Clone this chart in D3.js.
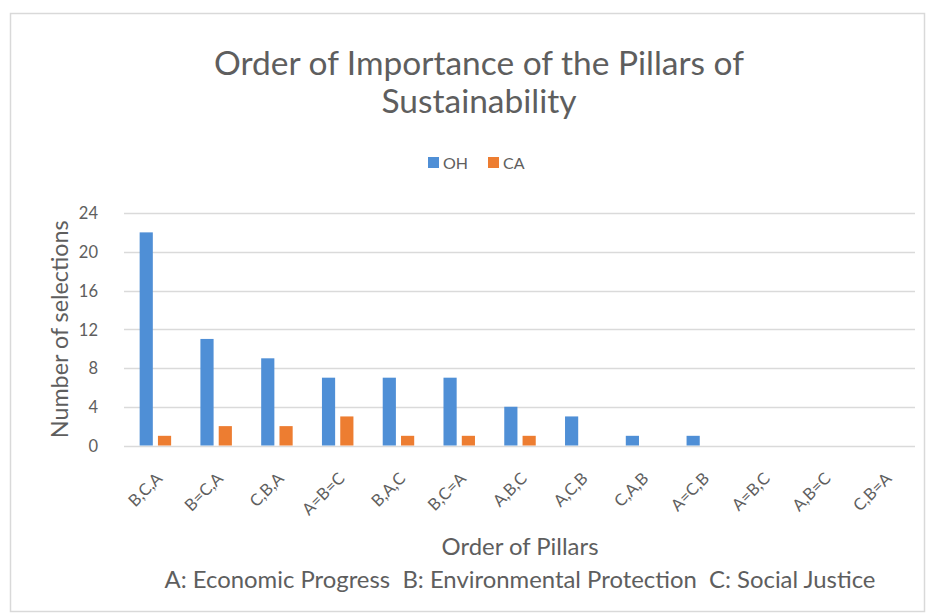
<html>

<head>
    <style>
        body {
            margin: 0;
            background: #ffffff;
        }

        text {
            font-family: Lato, "Open Sans", sans-serif;
            fill: #5e5e5e;
        }
    </style>
</head>

<body>
    <script src="https://d3js.org/d3.v7.min.js"></script>
    <script>
        var width = 927, height = 615;

        // data
        var categories = ["B,C,A", "B=C,A", "C,B,A", "A=B=C", "B,A,C", "B,C=A", "A,B,C", "A,C,B", "C,A,B", "A=C,B", "A=B,C", "A,B=C", "C,B=A"];
        var seriesNames = ["OH", "CA"];
        var ohValues = [22, 11, 9, 7, 7, 7, 4, 3, 1, 1, 0, 0, 0];
        var caValues = [1, 2, 2, 3, 1, 1, 1, 0, 0, 0, 0, 0, 0];
        var yTicks = [0, 4, 8, 12, 16, 20, 24];

        var rows = categories.map(function (c, i) {
            return { cat: c, OH: ohValues[i], CA: caValues[i] };
        });

        var color = d3.scaleOrdinal().domain(seriesNames).range(["#4f8fd6", "#ed7d31"]);

        var margin = { top: 213, right: 12, bottom: 170, left: 125 };

        var svg = d3.select("body")
            .append("svg")
            .attr("width", width)
            .attr("height", height);

        // chart border
        svg.append("rect")
            .attr("x", 10.5)
            .attr("y", 13.5)
            .attr("width", 914)
            .attr("height", 598)
            .attr("fill", "none")
            .attr("stroke", "#d9d9d9")
            .attr("stroke-width", 1.5);

        var x = d3.scaleBand()
            .domain(categories)
            .range([margin.left, width - margin.right]);

        var x1 = d3.scaleBand()
            .domain(seriesNames)
            .range([0, x.bandwidth()])
            .paddingInner(0.28)
            .paddingOuter(0.8);

        var y = d3.scaleLinear()
            .domain([0, 24])
            .range([height - margin.bottom + 0.5, margin.top]);

        // make a text fit a measured width by scaling its font size
        function fitWidth(sel, target) {
            var node = sel.node();
            var fs = parseFloat(sel.attr("font-size"));
            var w = node.getComputedTextLength();
            sel.attr("font-size", (fs * target / w).toFixed(2));
        }

        // gridlines
        svg.append("g")
            .attr("class", "grid")
            .selectAll("line")
            .data(yTicks)
            .enter().append("line")
            .attr("x1", margin.left - 1)
            .attr("x2", width - margin.right)
            .attr("y1", function (d) { return Math.round(y(d)) + 0.5; })
            .attr("y2", function (d) { return Math.round(y(d)) + 0.5; })
            .attr("stroke", "#dadada")
            .attr("stroke-width", 1.3);

        // y axis labels
        var yAxis = svg.append("g")
            .attr("transform", "translate(" + (margin.left - 27) + ",0)")
            .call(d3.axisLeft(y).tickValues(yTicks).tickSize(0).tickPadding(0));
        yAxis.select(".domain").remove();
        yAxis.selectAll("text")
            .attr("font-family", "Lato, sans-serif")
            .attr("font-size", 16.5)
            .attr("fill", "#5e5e5e")
            .attr("dy", "0.36em");

        // bars
        var groups = svg.append("g")
            .selectAll("g")
            .data(rows)
            .enter().append("g")
            .attr("transform", function (d) { return "translate(" + x(d.cat) + ",0)"; });

        groups.selectAll("rect")
            .data(function (d) { return seriesNames.map(function (k) { return { key: k, value: d[k] }; }); })
            .enter().append("rect")
            .attr("x", function (d) { return x1(d.key); })
            .attr("width", x1.bandwidth())
            .attr("y", function (d) { return y(d.value); })
            .attr("height", function (d) { return y(0) - y(d.value); })
            .attr("fill", function (d) { return color(d.key); });

        // x axis labels, rotated
        svg.append("g")
            .selectAll("text")
            .data(categories)
            .enter().append("text")
            .attr("text-anchor", "end")
            .attr("font-size", 16.5)
            .attr("transform", function (d) {
                return "translate(" + (x(d) + x.bandwidth() / 2 + 8) + "," + (y(0) + 34) + ") rotate(-45)";
            })
            .text(function (d) { return d; });

        // title
        var title1 = svg.append("text")
            .attr("x", 479)
            .attr("y", 75)
            .attr("text-anchor", "middle")
            .attr("font-size", 26)
            .text("Order of Importance of the Pillars of");
        fitWidth(title1, 530);
        svg.append("text")
            .attr("x", 479)
            .attr("y", 113)
            .attr("text-anchor", "middle")
            .attr("font-size", title1.attr("font-size"))
            .text("Sustainability");

        // legend
        var legend = svg.append("g")
            .attr("transform", "translate(428,157)");
        var li = legend.selectAll("g")
            .data(seriesNames)
            .enter().append("g")
            .attr("transform", function (d, i) { return "translate(" + (i * 60) + ",0)"; });
        li.append("rect")
            .attr("width", 11)
            .attr("height", 11)
            .attr("fill", function (d) { return color(d); });
        li.append("text")
            .attr("x", 15)
            .attr("y", 11.5)
            .attr("font-size", 16)
            .text(function (d) { return d; });

        // y axis title
        var yTitle = svg.append("text")
            .attr("transform", "translate(68," + ((y(0) + y(24)) / 2) + ") rotate(-90)")
            .attr("text-anchor", "middle")
            .attr("font-size", 18)
            .text("Number of selections");
        fitWidth(yTitle, 218);

        // x axis title and key
        var cx = (margin.left + width - margin.right) / 2;
        var xTitle = svg.append("text")
            .attr("x", cx)
            .attr("y", 555)
            .attr("text-anchor", "middle")
            .attr("font-size", 18)
            .text("Order of Pillars");
        fitWidth(xTitle, 157);

        var key = svg.append("text")
            .attr("x", cx)
            .attr("y", 588)
            .attr("text-anchor", "middle")
            .attr("font-size", 18)
            .attr("xml:space", "preserve")
            .style("white-space", "pre")
            .text("A: Economic Progress  B: Environmental Protection  C: Social Justice");
        fitWidth(key, 711);
    </script>
</body>

</html>
